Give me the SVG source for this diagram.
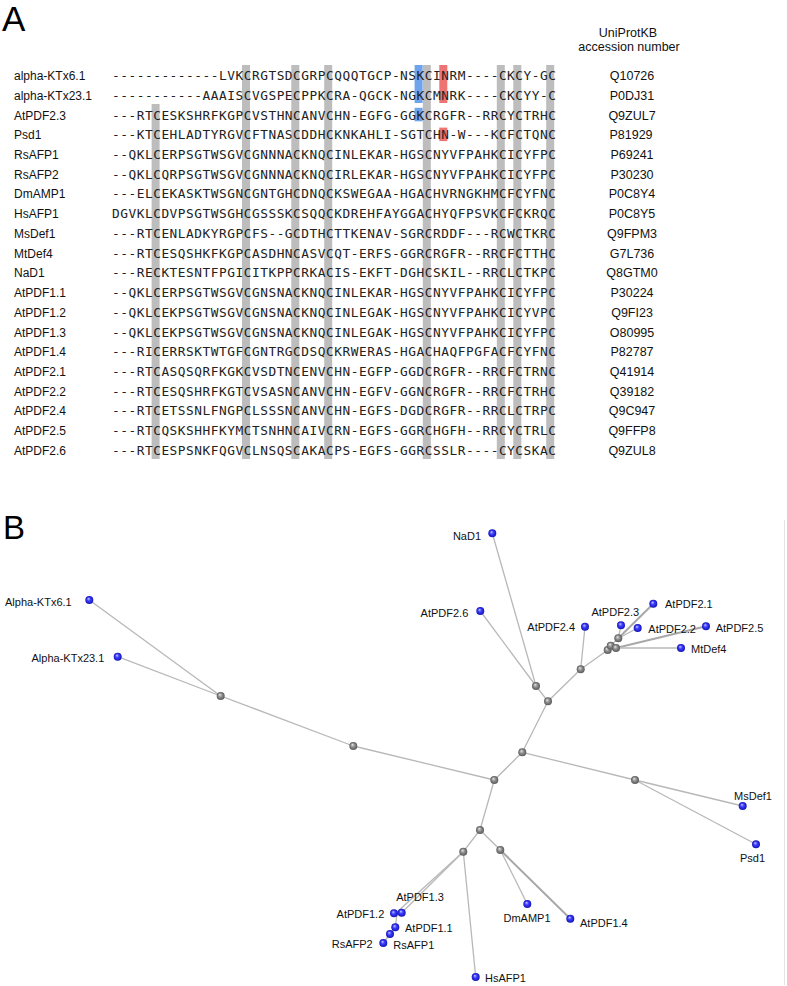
<svg xmlns="http://www.w3.org/2000/svg" width="787" height="986" viewBox="0 0 787 986">
<style>
.lbl{font-family:"Liberation Sans",Arial,sans-serif;font-size:12px;fill:#111}
.seq{font-family:"DejaVu Sans Mono","Liberation Mono",monospace;font-size:12.8px;fill:#222}
.acc{font-family:"Liberation Sans",Arial,sans-serif;font-size:12.5px;fill:#111;text-anchor:middle}
.big{font-family:"Liberation Sans",Arial,sans-serif;fill:#000}
.col{fill:#bdbdbd}
.tl{font-family:"Liberation Sans",Arial,sans-serif;font-size:11px;fill:#111}
.edge{stroke:#b8b8b8;stroke-width:1.3;fill:none}
.edge2{stroke:#a8a8a8;stroke-width:2;fill:none}
</style>
<defs>
<radialGradient id="gb" cx="0.5" cy="0.5" r="0.5" fx="0.38" fy="0.32">
<stop offset="0" stop-color="#c8c8ff"/><stop offset="0.45" stop-color="#3c3cff"/><stop offset="1" stop-color="#1414b4"/>
</radialGradient>
<radialGradient id="gg" cx="0.5" cy="0.5" r="0.5" fx="0.38" fy="0.32">
<stop offset="0" stop-color="#e6e6e6"/><stop offset="0.5" stop-color="#8c8c8c"/><stop offset="1" stop-color="#5a5a5a"/>
</radialGradient>
</defs>
<rect width="787" height="986" fill="#fff"/>
<text class="big" x="2" y="31" font-size="35">A</text>
<text class="big" x="3" y="538.5" font-size="33">B</text>

<g id="alignment-columns">
<rect class="col" x="151.6" y="104" width="8" height="355"/>
<rect class="col" x="242.0" y="65" width="8" height="394"/>
<rect class="col" x="291.3" y="65" width="8" height="394"/>
<rect class="col" x="324.2" y="65" width="8" height="394"/>
<rect class="col" x="422.8" y="65" width="8" height="394"/>
<rect class="col" x="496.8" y="65" width="8" height="394"/>
<rect class="col" x="513.3" y="65" width="8" height="394"/>
<rect class="col" x="546.2" y="65" width="8" height="394"/>
<rect x="414.6" y="65" width="8" height="38" fill="#6fa3ec"/>
<rect x="414.6" y="107.8" width="8" height="13.5" fill="#6fa3ec"/>
<rect x="439.3" y="65" width="8" height="38" fill="#ee7474"/>
<rect x="439.3" y="127.6" width="8" height="13.5" fill="#ee7474"/>
</g>

<g id="header">
<text class="acc" x="628" y="37">UniProtKB</text>
<text class="acc" x="629" y="51">accession number</text>
</g>

<g id="alignment">
<g id="row-alpha-KTx6.1"><text class="lbl" x="14" y="80.1">alpha-KTx6.1</text><text class="seq" x="112" y="80.1" textLength="444" lengthAdjust="spacing">-------------LVKCRGTSDCGRPCQQQTGCP-NSKCINRM----CKCY-GC</text><text class="acc" x="632" y="80.1">Q10726</text></g>
<g id="row-alpha-KTx23.1"><text class="lbl" x="14" y="99.8">alpha-KTx23.1</text><text class="seq" x="112" y="99.8" textLength="444" lengthAdjust="spacing">-----------AAAISCVGSPECPPKCRA-QGCK-NGKCMNRK----CKCYY-C</text><text class="acc" x="632" y="99.8">P0DJ31</text></g>
<g id="row-AtPDF2.3"><text class="lbl" x="14" y="119.5">AtPDF2.3</text><text class="seq" x="112" y="119.5" textLength="444" lengthAdjust="spacing">---RTCESKSHRFKGPCVSTHNCANVCHN-EGFG-GGKCRGFR--RRCYCTRHC</text><text class="acc" x="632" y="119.5">Q9ZUL7</text></g>
<g id="row-Psd1"><text class="lbl" x="14" y="139.3">Psd1</text><text class="seq" x="112" y="139.3" textLength="444" lengthAdjust="spacing">---KTCEHLADTYRGVCFTNASCDDHCKNKAHLI-SGTCHN-W---KCFCTQNC</text><text class="acc" x="631" y="139.3">P81929</text></g>
<g id="row-RsAFP1"><text class="lbl" x="14" y="159">RsAFP1</text><text class="seq" x="112" y="159" textLength="444" lengthAdjust="spacing">--QKLCERPSGTWSGVCGNNNACKNQCINLEKAR-HGSCNYVFPAHKCICYFPC</text><text class="acc" x="632" y="159">P69241</text></g>
<g id="row-RsAFP2"><text class="lbl" x="14" y="178.7">RsAFP2</text><text class="seq" x="112" y="178.7" textLength="444" lengthAdjust="spacing">--QKLCQRPSGTWSGVCGNNNACKNQCIRLEKAR-HGSCNYVFPAHKCICYFPC</text><text class="acc" x="632" y="178.7">P30230</text></g>
<g id="row-DmAMP1"><text class="lbl" x="14" y="198.4">DmAMP1</text><text class="seq" x="112" y="198.4" textLength="444" lengthAdjust="spacing">---ELCEKASKTWSGNCGNTGHCDNQCKSWEGAA-HGACHVRNGKHMCFCYFNC</text><text class="acc" x="632" y="198.4">P0C8Y4</text></g>
<g id="row-HsAFP1"><text class="lbl" x="14" y="218.1">HsAFP1</text><text class="seq" x="112" y="218.1" textLength="444" lengthAdjust="spacing">DGVKLCDVPSGTWSGHCGSSSKCSQQCKDREHFAYGGACHYQFPSVKCFCKRQC</text><text class="acc" x="632" y="218.1">P0C8Y5</text></g>
<g id="row-MsDef1"><text class="lbl" x="14" y="237.9">MsDef1</text><text class="seq" x="112" y="237.9" textLength="444" lengthAdjust="spacing">---RTCENLADKYRGPCFS--GCDTHCTTKENAV-SGRCRDDF---RCWCTKRC</text><text class="acc" x="632" y="237.9">Q9FPM3</text></g>
<g id="row-MtDef4"><text class="lbl" x="14" y="257.6">MtDef4</text><text class="seq" x="112" y="257.6" textLength="444" lengthAdjust="spacing">---RTCESQSHKFKGPCASDHNCASVCQT-ERFS-GGRCRGFR--RRCFCTTHC</text><text class="acc" x="632" y="257.6">G7L736</text></g>
<g id="row-NaD1"><text class="lbl" x="14" y="277.3">NaD1</text><text class="seq" x="112" y="277.3" textLength="444" lengthAdjust="spacing">---RECKTESNTFPGICITKPPCRKACIS-EKFT-DGHCSKIL--RRCLCTKPC</text><text class="acc" x="632" y="277.3">Q8GTM0</text></g>
<g id="row-AtPDF1.1"><text class="lbl" x="14" y="297">AtPDF1.1</text><text class="seq" x="112" y="297" textLength="444" lengthAdjust="spacing">--QKLCERPSGTWSGVCGNSNACKNQCINLEKAR-HGSCNYVFPAHKCICYFPC</text><text class="acc" x="632" y="297">P30224</text></g>
<g id="row-AtPDF1.2"><text class="lbl" x="14" y="316.7">AtPDF1.2</text><text class="seq" x="112" y="316.7" textLength="444" lengthAdjust="spacing">--QKLCEKPSGTWSGVCGNSNACKNQCINLEGAK-HGSCNYVFPAHKCICYVPC</text><text class="acc" x="632" y="316.7">Q9FI23</text></g>
<g id="row-AtPDF1.3"><text class="lbl" x="14" y="336.5">AtPDF1.3</text><text class="seq" x="112" y="336.5" textLength="444" lengthAdjust="spacing">--QKLCEKPSGTWSGVCGNSNACKNQCINLEGAK-HGSCNYVFPAHKCICYFPC</text><text class="acc" x="632" y="336.5">O80995</text></g>
<g id="row-AtPDF1.4"><text class="lbl" x="14" y="356.2">AtPDF1.4</text><text class="seq" x="112" y="356.2" textLength="444" lengthAdjust="spacing">---RICERRSKTWTGFCGNTRGCDSQCKRWERAS-HGACHAQFPGFACFCYFNC</text><text class="acc" x="632" y="356.2">P82787</text></g>
<g id="row-AtPDF2.1"><text class="lbl" x="14" y="375.9">AtPDF2.1</text><text class="seq" x="112" y="375.9" textLength="444" lengthAdjust="spacing">---RTCASQSQRFKGKCVSDTNCENVCHN-EGFP-GGDCRGFR--RRCFCTRNC</text><text class="acc" x="632" y="375.9">Q41914</text></g>
<g id="row-AtPDF2.2"><text class="lbl" x="14" y="395.6">AtPDF2.2</text><text class="seq" x="112" y="395.6" textLength="444" lengthAdjust="spacing">---RTCESQSHRFKGTCVSASNCANVCHN-EGFV-GGNCRGFR--RRCFCTRHC</text><text class="acc" x="632" y="395.6">Q39182</text></g>
<g id="row-AtPDF2.4"><text class="lbl" x="14" y="415.3">AtPDF2.4</text><text class="seq" x="112" y="415.3" textLength="444" lengthAdjust="spacing">---RTCETSSNLFNGPCLSSSNCANVCHN-EGFS-DGDCRGFR--RRCLCTRPC</text><text class="acc" x="632" y="415.3">Q9C947</text></g>
<g id="row-AtPDF2.5"><text class="lbl" x="14" y="435.1">AtPDF2.5</text><text class="seq" x="112" y="435.1" textLength="444" lengthAdjust="spacing">---RTCQSKSHHFKYMCTSNHNCAIVCRN-EGFS-GGRCHGFH--RRCYCTRLC</text><text class="acc" x="632" y="435.1">Q9FFP8</text></g>
<g id="row-AtPDF2.6"><text class="lbl" x="14" y="454.8">AtPDF2.6</text><text class="seq" x="112" y="454.8" textLength="444" lengthAdjust="spacing">---RTCESPSNKFQGVCLNSQSCAKACPS-EGFS-GGRCSSLR----CYCSKAC</text><text class="acc" x="632" y="454.8">Q9ZUL8</text></g>
</g>

<line x1="784.5" y1="520" x2="784.5" y2="985" stroke="#e4e4e4" stroke-width="1"/>

<g id="connectors">
<line class="edge" x1="220.7" y1="696" x2="89.3" y2="600"/>
<line class="edge" x1="220.7" y1="696" x2="117.7" y2="656.7"/>
<line class="edge" x1="220.7" y1="696" x2="353.3" y2="746"/>
<line class="edge" x1="353.3" y1="746" x2="494.3" y2="780"/>
<line class="edge" x1="494.3" y1="780" x2="522.3" y2="752.3"/>
<line class="edge" x1="494.3" y1="780" x2="480" y2="830"/>
<line class="edge" x1="522.3" y1="752.3" x2="548" y2="701.3"/>
<line class="edge" x1="522.3" y1="752.3" x2="635" y2="780"/>
<line class="edge" x1="635" y1="780" x2="742.7" y2="806"/>
<line class="edge" x1="635" y1="780" x2="756" y2="844.3"/>
<line class="edge" x1="548" y1="701.3" x2="536" y2="686"/>
<line class="edge" x1="548" y1="701.3" x2="580.7" y2="669.3"/>
<line class="edge" x1="536" y1="686" x2="492.3" y2="533.3"/>
<line class="edge" x1="536" y1="686" x2="480.3" y2="611"/>
<line class="edge" x1="580.7" y1="669.3" x2="585" y2="626.7"/>
<line class="edge" x1="580.7" y1="669.3" x2="607.7" y2="650"/>
<line class="edge" x1="607.7" y1="650" x2="610.7" y2="645.7"/>
<line class="edge" x1="610.7" y1="645.7" x2="618.3" y2="638.3"/>
<line class="edge" x1="607.7" y1="650" x2="616" y2="648"/>
<line class="edge" x1="618.3" y1="638.3" x2="621" y2="625.3"/>
<line class="edge2" x1="618.3" y1="638.3" x2="653.3" y2="603.7"/>
<line class="edge" x1="618.3" y1="638.3" x2="637.7" y2="628"/>
<line class="edge2" x1="616" y1="648" x2="706" y2="626.3"/>
<line class="edge" x1="616" y1="648" x2="681" y2="648"/>
<line class="edge" x1="480" y1="830" x2="463.3" y2="851.7"/>
<line class="edge" x1="480" y1="830" x2="500.3" y2="850"/>
<line class="edge" x1="463.3" y1="851.7" x2="475.7" y2="977"/>
<line class="edge" x1="463.3" y1="851.7" x2="401.7" y2="912.7"/>
<line class="edge" x1="463.3" y1="851.7" x2="396" y2="913"/>
<line class="edge" x1="397" y1="914" x2="395.3" y2="927.3"/>
<line class="edge" x1="395.3" y1="927.3" x2="390" y2="934"/>
<line class="edge" x1="390" y1="934" x2="383.3" y2="943"/>
<line class="edge" x1="500.3" y1="850" x2="527.3" y2="904"/>
<line class="edge2" x1="500.3" y1="850" x2="570.3" y2="918.7"/>
</g>

<g id="internal-nodes">
<g id="n1"><circle cx="220.7" cy="696" r="4" fill="url(#gg)"/></g>
<g id="n2"><circle cx="353.3" cy="746" r="4" fill="url(#gg)"/></g>
<g id="n3"><circle cx="494.3" cy="780" r="4" fill="url(#gg)"/></g>
<g id="n4"><circle cx="522.3" cy="752.3" r="4" fill="url(#gg)"/></g>
<g id="n5"><circle cx="635" cy="780" r="4" fill="url(#gg)"/></g>
<g id="n6"><circle cx="548" cy="701.3" r="4" fill="url(#gg)"/></g>
<g id="n7"><circle cx="536" cy="686" r="4" fill="url(#gg)"/></g>
<g id="n8"><circle cx="580.7" cy="669.3" r="4" fill="url(#gg)"/></g>
<g id="n9"><circle cx="607.7" cy="650" r="4" fill="url(#gg)"/></g>
<g id="n10"><circle cx="610.7" cy="645.7" r="4" fill="url(#gg)"/></g>
<g id="n11"><circle cx="616" cy="648" r="4" fill="url(#gg)"/></g>
<g id="n12"><circle cx="618.3" cy="638.3" r="4" fill="url(#gg)"/></g>
<g id="n13"><circle cx="480" cy="830" r="4" fill="url(#gg)"/></g>
<g id="n14"><circle cx="463.3" cy="851.7" r="4" fill="url(#gg)"/></g>
<g id="n15"><circle cx="500.3" cy="850" r="4" fill="url(#gg)"/></g>
</g>

<g id="leaves">
<g id="leaf-Alpha-KTx6.1"><circle cx="89.3" cy="600" r="4" fill="url(#gb)"/><text class="tl" x="71.7" y="605.5" text-anchor="end">Alpha-KTx6.1</text></g>
<g id="leaf-Alpha-KTx23.1"><circle cx="117.7" cy="656.7" r="4" fill="url(#gb)"/><text class="tl" x="104.3" y="662" text-anchor="end">Alpha-KTx23.1</text></g>
<g id="leaf-NaD1"><circle cx="492.3" cy="533.3" r="4" fill="url(#gb)"/><text class="tl" x="481" y="540" text-anchor="end">NaD1</text></g>
<g id="leaf-AtPDF2.6"><circle cx="480.3" cy="611" r="4" fill="url(#gb)"/><text class="tl" x="468.3" y="617" text-anchor="end">AtPDF2.6</text></g>
<g id="leaf-AtPDF2.4"><circle cx="585" cy="626.7" r="4" fill="url(#gb)"/><text class="tl" x="575" y="630.5" text-anchor="end">AtPDF2.4</text></g>
<g id="leaf-AtPDF2.3"><circle cx="621" cy="625.3" r="4" fill="url(#gb)"/><text class="tl" x="615.3" y="616" text-anchor="middle">AtPDF2.3</text></g>
<g id="leaf-AtPDF2.1"><circle cx="653.3" cy="603.7" r="4" fill="url(#gb)"/><text class="tl" x="665" y="608">AtPDF2.1</text></g>
<g id="leaf-AtPDF2.2"><circle cx="637.7" cy="628" r="4" fill="url(#gb)"/><text class="tl" x="648.3" y="633">AtPDF2.2</text></g>
<g id="leaf-AtPDF2.5"><circle cx="706" cy="626.3" r="4" fill="url(#gb)"/><text class="tl" x="715.7" y="632">AtPDF2.5</text></g>
<g id="leaf-MtDef4"><circle cx="681" cy="648" r="4" fill="url(#gb)"/><text class="tl" x="691" y="653">MtDef4</text></g>
<g id="leaf-MsDef1"><circle cx="742.7" cy="806" r="4" fill="url(#gb)"/><text class="tl" x="753" y="800" text-anchor="middle">MsDef1</text></g>
<g id="leaf-Psd1"><circle cx="756" cy="844.3" r="4" fill="url(#gb)"/><text class="tl" x="752.5" y="861.5" text-anchor="middle">Psd1</text></g>
<g id="leaf-DmAMP1"><circle cx="527.3" cy="904" r="4" fill="url(#gb)"/><text class="tl" x="527" y="922" text-anchor="middle">DmAMP1</text></g>
<g id="leaf-AtPDF1.4"><circle cx="570.3" cy="918.7" r="4" fill="url(#gb)"/><text class="tl" x="580" y="926.5">AtPDF1.4</text></g>
<g id="leaf-HsAFP1"><circle cx="475.7" cy="977" r="4" fill="url(#gb)"/><text class="tl" x="485" y="981.5">HsAFP1</text></g>
<g id="leaf-AtPDF1.2"><circle cx="394" cy="913.3" r="4" fill="url(#gb)"/><text class="tl" x="384.3" y="917.5" text-anchor="end">AtPDF1.2</text></g>
<g id="leaf-AtPDF1.3"><circle cx="401.7" cy="912.7" r="4" fill="url(#gb)"/><text class="tl" x="420" y="900.5" text-anchor="middle">AtPDF1.3</text></g>
<g id="leaf-AtPDF1.1"><circle cx="395.3" cy="927.3" r="4" fill="url(#gb)"/><text class="tl" x="405" y="931.5">AtPDF1.1</text></g>
<g id="leaf-RsAFP1"><circle cx="390" cy="934" r="4" fill="url(#gb)"/><text class="tl" x="393.3" y="949">RsAFP1</text></g>
<g id="leaf-RsAFP2"><circle cx="383.3" cy="943" r="4" fill="url(#gb)"/><text class="tl" x="372.7" y="948" text-anchor="end">RsAFP2</text></g>
</g>
</svg>
